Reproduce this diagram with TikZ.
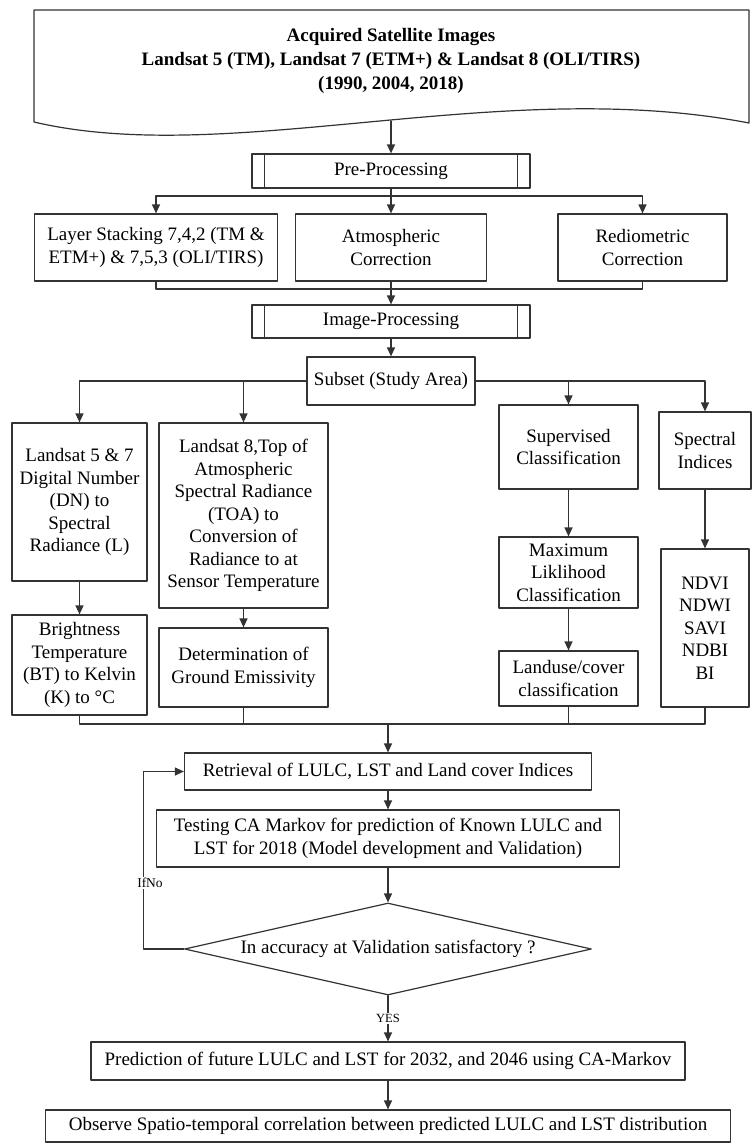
\documentclass[tikz,border=0pt]{standalone}
\usepackage{fontspec}
\setmainfont{Liberation Serif}
\usetikzlibrary{shapes.geometric,arrows.meta,positioning}

\tikzset{
  box/.style={draw=black!80, line width=1.2pt, align=center, inner sep=2pt},
  ln/.style={draw=black!80, line width=1.2pt},
  arr/.style={ln, -{Triangle[length=9pt,width=8pt]}},
  tag/.style={fill=white, inner sep=1.5pt, font=\fontsize{12.5}{14}\selectfont},
  subproc/.style={box, minimum width=278pt},
}

\begin{document}
\begin{tikzpicture}[x=1pt, y=-1pt, line cap=round, line join=round,
    font=\fontsize{19}{22.5}\selectfont]
    \useasboundingbox (0,0) rectangle (752,1143);

    % input document
    \draw[ln] (34,10) -- (749,10) -- (749,123) .. controls (500,75) and (230,168) .. (34,122) -- cycle;
    \node[align=center, font=\bfseries\fontsize{19}{24}\selectfont] (title) at (391,61)
      {Acquired Satellite Images\\ Landsat 5 (TM), Landsat 7 (ETM+) \& Landsat 8 (OLI/TIRS)\\ (1990, 2004, 2018)};
    \coordinate (docb) at (391,121);

    % pre-processing
    \node[subproc, minimum height=34pt] (pre) at (391,171) {Pre-Processing};
    \draw[ln] ([xshift=13pt]pre.north west) -- ([xshift=13pt]pre.south west)
              ([xshift=-13pt]pre.north east) -- ([xshift=-13pt]pre.south east);
    \draw[arr] (docb) -- (pre.north);

    \node[box, minimum width=243pt, minimum height=67pt] (layer) at (156,247.5) {Layer Stacking 7,4,2 (TM \&\\ ETM+) \& 7,5,3 (OLI/TIRS)};
    \node[box, minimum width=191pt, minimum height=67pt] (atm) at (391,247.5) {Atmospheric\\ Correction};
    \node[box, minimum width=169pt, minimum height=67pt] (rad) at (642.5,247.5) {Rediometric\\ Correction};

    \coordinate (split1) at (391,196);
    \draw[ln] (pre.south) -- (split1);
    \draw[arr] (split1) -| (layer.north);
    \draw[arr] (split1) -- (atm.north);
    \draw[arr] (split1) -| (rad.north);

    % image processing
    \node[subproc, minimum height=33pt] (ip) at (391,321.5) {Image-Processing};
    \draw[ln] ([xshift=13pt]ip.north west) -- ([xshift=13pt]ip.south west)
              ([xshift=-13pt]ip.north east) -- ([xshift=-13pt]ip.south east);
    \coordinate (join1) at (391,289);
    \draw[ln] (layer.south) |- (join1) -| (rad.south);
    \draw[ln] (atm.south) -- (join1);
    \draw[arr] (join1) -- (ip.north);

    \node[box, minimum width=168pt, minimum height=48pt] (sub) at (391,381) {Subset (Study Area)};
    \draw[arr] (ip.south) -- (sub.north);

    % four branches
    \node[box, minimum width=135pt, minimum height=158pt] (l57) at (79.5,502) {Landsat 5 \& 7\\ Digital Number\\ (DN) to\\ Spectral\\ Radiance (L)};
    \node[box, minimum width=169pt, minimum height=185pt] (l8) at (243.5,515.5) {Landsat 8,Top of\\ Atmospheric\\ Spectral Radiance\\ (TOA) to\\ Conversion of\\ Radiance to at\\ Sensor Temperature};
    \node[box, minimum width=139pt, minimum height=84pt] (sup) at (568.5,447) {Supervised\\ Classification};
    \node[box, minimum width=92pt, minimum height=77pt] (spec) at (705,450.5) {Spectral\\ Indices};

    \draw[arr] (sub.west) -| (l57.north);
    \draw[arr] (sub.west -| l8.north) -- (l8.north);
    \draw[arr] (sub.east) -| (spec.north);
    \draw[arr] (sub.east -| sup.north) -- (sup.north);

    \node[box, minimum width=135pt, minimum height=100pt] (bt) at (79.5,665) {Brightness\\ Temperature\\ (BT) to Kelvin\\ (K) to °C};
    \node[box, minimum width=169pt, minimum height=79pt] (det) at (243.5,667.5) {Determination of\\ Ground Emissivity};
    \node[box, minimum width=139pt, minimum height=71pt] (maxl) at (568.5,572.5) {Maximum\\ Liklihood\\ Classification};
    \node[box, minimum width=139pt, minimum height=55pt] (lu) at (568.5,678.5) {Landuse/cover\\ classification};
    \node[box, minimum width=88pt, minimum height=158pt] (ndx) at (705,628) {NDVI\\ NDWI\\ SAVI\\ NDBI\\ BI};

    \draw[arr] (l57) -- (bt);
    \draw[arr] (l8) -- (det);
    \draw[arr] (sup) -- (maxl);
    \draw[arr] (maxl) -- (lu);
    \draw[arr] (spec) -- (ndx);

    % merge and model
    \coordinate (join2) at (388,724);
    \draw[ln] (bt.south) |- (join2) -| (ndx.south);
    \draw[ln] (det.south) -- (det.south |- join2);
    \draw[ln] (lu.south) -- (lu.south |- join2);

    \node[box, minimum width=407pt, minimum height=37pt] (ret) at (388,771.5) {Retrieval of LULC, LST and Land cover Indices};
    \node[box, minimum width=463pt, minimum height=57pt] (test) at (388,838.5) {Testing CA Markov for prediction of Known LULC and\\ LST for 2018 (Model development and Validation)};
    \node[diamond, draw=black!80, line width=1.2pt, aspect=4.4, inner sep=0pt,
          minimum width=407pt, minimum height=92pt] (dia) at (388,949) {In accuracy at Validation satisfactory ?};
    \node[box, minimum width=594pt, minimum height=38pt] (pred) at (388,1061) {Prediction of future LULC and LST for 2032, and 2046 using CA-Markov};
    \node[box, minimum width=685pt, minimum height=32pt] (obs) at (388,1126) {Observe Spatio-temporal correlation between predicted LULC and LST distribution};

    \draw[arr] (join2) -- (ret.north);
    \draw[arr] (ret) -- (test);
    \draw[arr] (test) -- (dia);
    \draw[arr] (dia) -- node[tag] {YES} (pred);
    \draw[arr] (pred) -- (obs);
    \draw[arr] (dia.west) -- ++(-40.5,0) |- (ret.west);
    \node[tag, font=\fontsize{13.5}{15}\selectfont] (ifno) at (150,883) {IfNo};
\end{tikzpicture}
\end{document}
